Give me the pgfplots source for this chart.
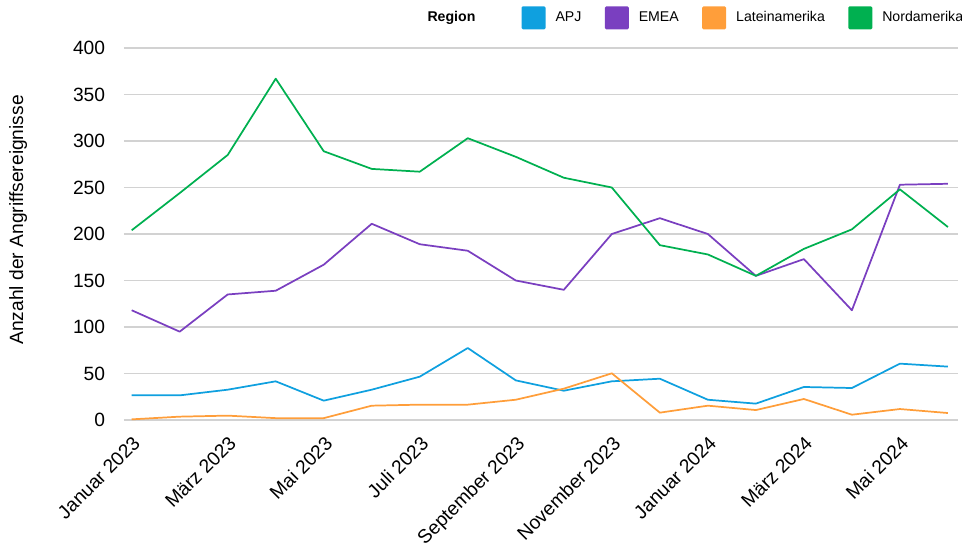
\documentclass[border=0pt]{standalone}
\usepackage{pgfplots}
\pgfplotsset{compat=1.18}
\usepackage{fontspec}
\setmainfont{Liberation Sans}
\definecolor{apj}{HTML}{0FA0DF}
\definecolor{emea}{HTML}{7A3FC0}
\definecolor{lat}{HTML}{FF9E3A}
\definecolor{nord}{HTML}{00B050}
\definecolor{gridc}{HTML}{D2D2D2}
\begin{document}
\begin{tikzpicture}
\path[use as bounding box] (-93pt,-97.5pt) rectangle (628.5pt,315pt);
\begin{axis}[
  at={(0pt,0pt)}, anchor=south west,
  scale only axis, width=625.5pt, height=279pt,
  xmin=-0.16, xmax=17.21, ymin=0, ymax=400,
  xtick={0,2,4,6,8,10,12,14,16},
  xticklabels={Januar 2023,März 2023,Mai 2023,Juli 2023,September 2023,November 2023,Januar 2024,März 2024,Mai 2024},
  ytick={0,50,100,150,200,250,300,350,400},
  major tick length=0pt,
  axis line style={draw=none},
  xmajorgrids=false, ymajorgrids=true, grid style={color=gridc, line width=0.8pt},
  /pgf/number format/assume math mode=true,
  tick label style={font=\fontsize{14.4}{16}\selectfont, text=black},
  yticklabel style={anchor=east, inner sep=0pt, xshift=-14pt},
  xticklabel style={yshift=-11pt, rotate=45, anchor=north east, inner sep=0pt},
  ylabel={Anzahl der Angriffsereignisse},
  ylabel style={at={(axis description cs:-0.127,0.538)}, anchor=center, font=\fontsize{14.4}{16}\selectfont},
  legend columns=-1,
  legend style={at={(axis description cs:0.358,1.081)}, anchor=west, draw=none, fill=none,
    font=\fontsize{10.6}{12}\selectfont,
    nodes={inner sep=0.5pt},
    /tikz/every odd column/.append style={column sep=7pt},
    /tikz/every even column/.append style={column sep=17pt}},
  legend image code/.code={\fill[#1,draw=none,rounded corners=1pt] (0pt,-8.6pt) rectangle (18pt,8.6pt);},
  every axis plot/.append style={line width=1.3pt, line join=round, mark=none},
]
\addlegendimage{empty legend}
\addlegendentry{\hspace{-7pt}\makebox[53pt][l]{\textbf{Region}}}
\addplot[color=apj] coordinates {(0,26.5)(1,26.5)(2,32.6)(3,41.6)(4,20.8)(5,32.6)(6,46.6)(7,77.4)(8,42.6)(9,31.5)(10,41.6)(11,44.4)(12,21.8)(13,17.6)(14,35.5)(15,34.4)(16,60.6)(17,57.4)};
\addlegendentry{APJ}
\addplot[color=emea] coordinates {(0,118)(1,95)(2,135)(3,139)(4,167)(5,211)(6,189)(7,182)(8,150)(9,140)(10,200)(11,217)(12,200)(13,155)(14,173)(15,118)(16,253)(17,254)};
\addlegendentry{EMEA}
\addplot[color=lat] coordinates {(0,0.7)(1,3.6)(2,4.7)(3,2)(4,2)(5,15.4)(6,16.5)(7,16.5)(8,21.8)(9,33.7)(10,50.2)(11,7.9)(12,15.4)(13,10.7)(14,22.6)(15,5.7)(16,11.8)(17,7.5)};
\addlegendentry{Lateinamerika}
\addplot[color=nord] coordinates {(0,204)(1,244)(2,285)(3,367)(4,289)(5,270)(6,267)(7,303)(8,283)(9,260.5)(10,250)(11,188)(12,178)(13,155)(14,184)(15,205)(16,248)(17,207.5)};
\addlegendentry{Nordamerika}
\end{axis}
\end{tikzpicture}
\end{document}
